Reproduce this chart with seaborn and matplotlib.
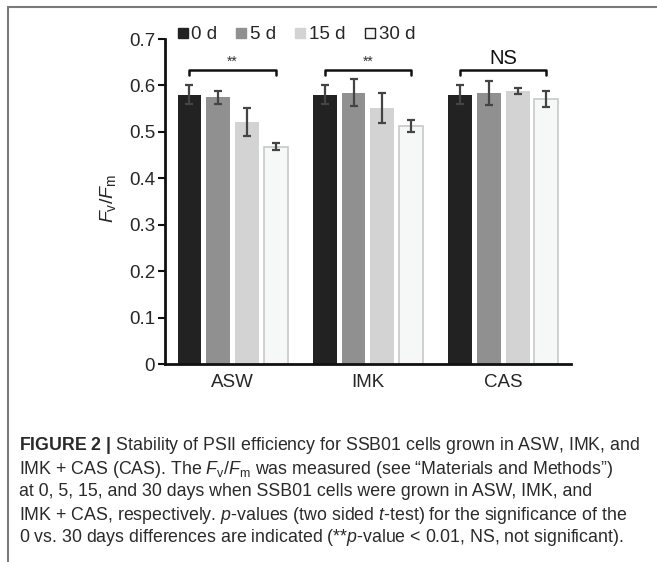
import numpy as np
import pandas as pd
import seaborn as sns
import matplotlib.pyplot as plt
from matplotlib.lines import Line2D

# values (Fv/Fm, mean and error bar half-length)
media = ['ASW', 'IMK', 'CAS']
days = ['0 d', '5 d', '15 d', '30 d']
means_0d = [0.580, 0.580, 0.580]
means_5d = [0.575, 0.584, 0.584]
means_15d = [0.522, 0.552, 0.588]
means_30d = [0.468, 0.512, 0.571]
err_0d = [0.020, 0.020, 0.020]
err_5d = [0.014, 0.029, 0.026]
err_15d = [0.030, 0.032, 0.007]
err_30d = [0.007, 0.013, 0.017]
sig_labels = ['**', '**', 'NS']
yticks = [0, 0.1, 0.2, 0.3, 0.4, 0.5, 0.6, 0.7]
ytick_labels = ['0', '0.1', '0.2', '0.3', '0.4', '0.5', '0.6', '0.7']

bar_colors = ['#222222', '#909090', '#d3d3d3', '#f6f8f8']

df = pd.DataFrame({
    'medium': media * 4,
    'day': np.repeat(days, 3),
    'fvfm': means_0d + means_5d + means_15d + means_30d,
})
errs = [err_0d, err_5d, err_15d, err_30d]
means = [means_0d, means_5d, means_15d, means_30d]

sns.set_style('ticks')
plt.rcParams['font.family'] = ['Liberation Sans', 'DejaVu Sans']
plt.rcParams['mathtext.fontset'] = 'custom'
plt.rcParams['mathtext.rm'] = 'Liberation Sans'
plt.rcParams['mathtext.it'] = 'Liberation Sans:italic'
plt.rcParams['mathtext.bf'] = 'Liberation Sans:bold'

fig = plt.figure(figsize=(6.57, 5.62), dpi=100)
ax = fig.add_axes([0.251, 0.3523, 0.618, 0.5783])

sns.barplot(data=df, x='medium', y='fvfm', hue='day', palette=bar_colors,
            saturation=1, width=0.85, gap=0.17, errorbar=None, legend=False, ax=ax)

# bar edges, only the white bars get a thin grey outline
for i, cont in enumerate(ax.containers):
    for p in cont:
        if i == 3:
            p.set_edgecolor('#c8c8c8')
            p.set_linewidth(1.2)
        else:
            p.set_linewidth(0)

# error bars
for cont, m, e in zip(ax.containers, means, errs):
    xs = [p.get_x() + p.get_width() / 2 for p in cont]
    ax.errorbar(xs, m, yerr=e, fmt='none', ecolor='#444444', elinewidth=1.6,
                capsize=3, capthick=1.6, zorder=5)

# significance brackets 0 d vs 30 d
for i, lab in enumerate(sig_labels):
    p0 = ax.containers[0][i]
    p3 = ax.containers[3][i]
    x0 = p0.get_x() + p0.get_width() / 2
    x1 = p3.get_x() + p3.get_width() / 2
    ax.plot([x0, x0, x1, x1], [0.623, 0.634, 0.634, 0.623], color='#111111',
            lw=1.8, clip_on=False)
    if lab == 'NS':
        ax.text((x0 + x1) / 2, 0.658, lab, ha='center', va='center', fontsize=14.5, color='#111111')
    else:
        ax.text((x0 + x1) / 2, 0.651, lab, ha='center', va='center', fontsize=10, color='#333333')

ax.set_xlim(-0.5, 2.5)
ax.set_ylim(0, 0.7)
ax.set_yticks(yticks)
ax.set_yticklabels(ytick_labels)
ax.set_xlabel('')
ax.set_ylabel(r'$F_{\mathrm{v}}/F_{\mathrm{m}}$', fontsize=14)
ax.yaxis.set_label_coords(-0.115, 0.51)
ax.tick_params(axis='y', length=5, width=1.5, direction='out', pad=2, labelsize=13.5, color='#111111')
ax.tick_params(axis='x', length=0, pad=7, labelsize=13.5)
sns.despine(ax=ax)
ax.spines['left'].set_linewidth(2)
ax.spines['bottom'].set_linewidth(2)
ax.spines['left'].set_color('#111111')
ax.spines['bottom'].set_color('#111111')

# legend with small square markers on top
handles = []
for c in bar_colors:
    ec = '#222222' if c == bar_colors[3] else c
    handles.append(Line2D([], [], marker='s', linestyle='none', markersize=7,
                          markerfacecolor=c, markeredgecolor=ec, markeredgewidth=1))
ax.legend(handles, days, loc='center left', bbox_to_anchor=(0.033, 1.013), ncol=4,
          frameon=False, handlelength=0.45, handletextpad=0.25, columnspacing=1.05,
          fontsize=13.5, borderaxespad=0, borderpad=0)

# frame around the figure panel (left and top only visible)
fig.add_artist(Line2D([0.0115, 0.0115], [0, 0.987], transform=fig.transFigure, color='#7a7a7a', lw=1.5))
fig.add_artist(Line2D([0.0115, 1], [0.987, 0.987], transform=fig.transFigure, color='#7a7a7a', lw=1.5))

# caption
caption = [
    r'$\mathbf{FIGURE\ 2\ |}$ Stability of PSII efficiency for SSB01 cells grown in ASW, IMK, and',
    r'IMK + CAS (CAS). The $F_{\mathrm{v}}/F_{\mathrm{m}}$ was measured (see “Materials and Methods”)',
    'at 0, 5, 15, and 30 days when SSB01 cells were grown in ASW, IMK, and',
    r'IMK + CAS, respectively. $p$-values (two sided $t$-test) for the significance of the',
    r'0 vs. 30 days differences are indicated (**$p$-value < 0.01, NS, not significant).',
]
for k, line in enumerate(caption):
    fig.text(0.029, 1 - (446 + 23 * k) / 562, line, ha='left', va='center',
             fontsize=12.8, color='#2a2a2a')

fig.savefig('out.png', dpi=100)
